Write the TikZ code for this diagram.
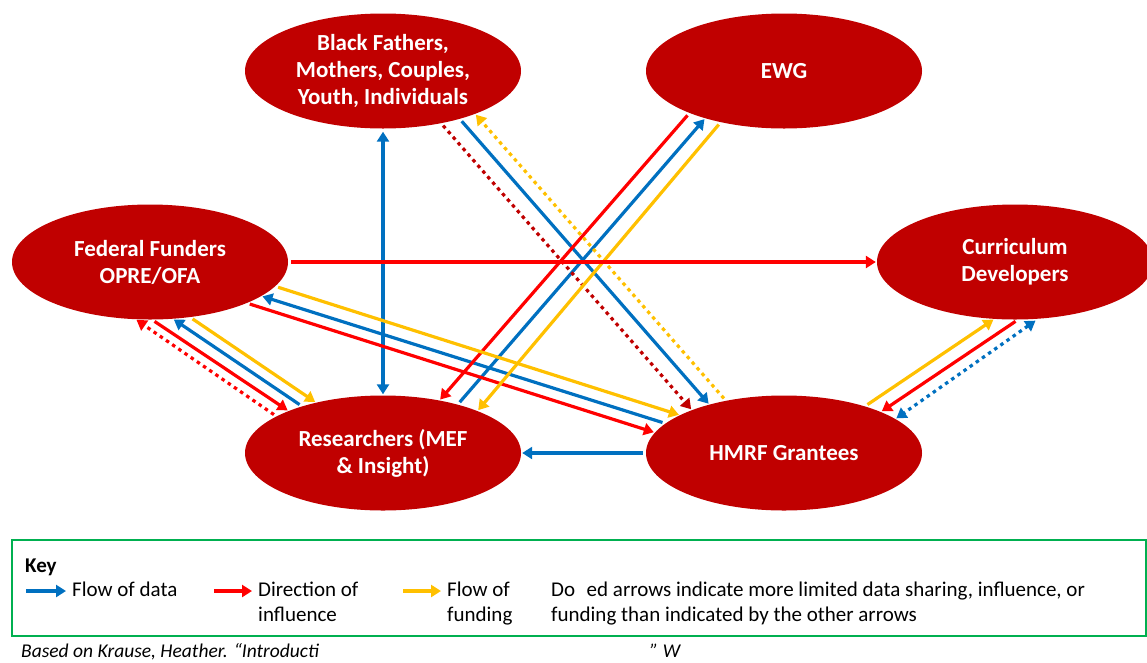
\documentclass[tikz,border=0pt]{standalone}
\usepackage{fontspec}
\setmainfont{Carlito}
\usetikzlibrary{arrows.meta,shapes.geometric}

\definecolor{nodered}{HTML}{C00000}
\definecolor{datablue}{HTML}{0070C0}
\definecolor{inflred}{HTML}{FF0000}
\definecolor{fundyellow}{HTML}{FFC000}
\definecolor{keygreen}{HTML}{00B050}

\tikzstyle{actor} = [ellipse, fill=nodered, minimum width=276pt, minimum height=115pt,
    inner sep=0pt, text=white, align=center, font=\fontsize{23}{27}\selectfont\bfseries]
\tikzstyle{flow} = [line width=3.2pt, shorten <=3pt, shorten >=1pt]
\tikzstyle{data} = [flow, datablue]
\tikzstyle{infl} = [flow, inflred]
\tikzstyle{fund} = [flow, fundyellow]
\tikzstyle{limited} = [dash pattern=on 3.5pt off 4pt]
\tikzstyle{keybox} = [draw=keygreen, line width=1.2pt, minimum width=1134pt, minimum height=96pt]
\tikzstyle{keytext} = [inner sep=0pt, anchor=north west, align=left, font=\fontsize{21}{25}\selectfont]
\tikzstyle{note} = [inner sep=0pt, anchor=base west, font=\fontsize{19.5}{24}\selectfont\itshape]

\begin{document}
\begin{tikzpicture}[x=1pt, y=-1pt, >={Triangle[length=10pt,width=12pt]}]
    \useasboundingbox (0,0) rectangle (1147,662);

    \node [actor] (res) at (383,453) {Researchers (MEF\\\& Insight)};
    \node [actor, above of=res, node distance=382pt] (bf) {Black Fathers,\\Mothers, Couples,\\Youth, Individuals};
    \node [actor, right of=res, node distance=401pt] (hm) {HMRF Grantees};
    \node [actor, above of=hm, node distance=382pt] (ewg) {EWG};
    \node [actor] (fed) at (150,262) {Federal Funders\\OPRE/OFA};
    \node [actor, right of=fed, node distance=865pt] (cur) {Curriculum\\Developers};

    % flow of data
    \draw [data, <->] (bf.south) -- (res.north);
    \draw [data, ->] (hm.west) -- (res.east);
    \draw [data, ->] (bf.-32.7) -- (hm.147.6);
    \draw [data, ->] (res.33) -- (ewg.211.4);
    \draw [data, ->] (res.150.3) -- (fed.-68.4);
    \draw [data, ->] (hm.166.2) -- (fed.-17.2);
    \draw [data, limited, <->] (cur.-68.4) -- (hm.17.7);

    % direction of influence
    \draw [infl, ->] (ewg.204.9) -- (res.43.5);
    \draw [infl, ->] (fed.-88.1) -- (res.156.3);
    \draw [infl, limited, ->] (res.161.3) -- (fed.-104.7);
    \draw [infl, ->] (fed.-23.3) -- (hm.171.5);
    \draw [infl, ->] (cur.-87.2) -- (hm.23.5);
    \draw [flow, nodered, limited, ->] (bf.-42) -- (hm.155.6);

    % flow of funding
    \draw [fund, ->] (ewg.219.4) -- (res.24.6);
    \draw [fund, ->] (fed.-54.8) -- (res.143.5);
    \draw [fund, ->] (fed.-11.6) -- (hm.160.9);
    \draw [fund, ->] (hm.30.6) -- (cur.-110.1);
    \draw [fund, limited, ->] (hm.138.2) -- (bf.-25.6);

    \draw [infl, ->] (fed.east) -- (cur.west);

    % key
    \node [keybox] (key) at (579,588) {};
    \node [keytext, font=\fontsize{21}{25}\selectfont\bfseries] (keytitle) at (25,559) {Key};
    \coordinate (kd1) at (26,591);
    \coordinate (kd2) at (66,591);
    \coordinate (ki1) at (214,591);
    \coordinate (ki2) at (252,591);
    \coordinate (kf1) at (403,591);
    \coordinate (kf2) at (441,591);
    \draw [data, ->, shorten <=0pt, shorten >=0pt] (kd1) -- (kd2);
    \draw [infl, ->, shorten <=0pt, shorten >=0pt] (ki1) -- (ki2);
    \draw [fund, ->, shorten <=0pt, shorten >=0pt] (kf1) -- (kf2);
    \node [keytext] (kdata) at (72,582) {Flow of data};
    \node [keytext] (kinfl) at (258,582) {Direction of\\influence};
    \node [keytext] (kfund) at (447,582) {Flow of\\funding};
    \node [keytext] (kdots) at (551,582) {Do\hspace{0.55em}ed arrows indicate more limited data sharing, influence, or\\funding than indicated by the other arrows};

    % source line
    \node [note] (src) at (21,657) {Based on Krause, Heather. “Introducti};
    \node [note] (srcend) at (650,657) {” W};
\end{tikzpicture}
\end{document}
